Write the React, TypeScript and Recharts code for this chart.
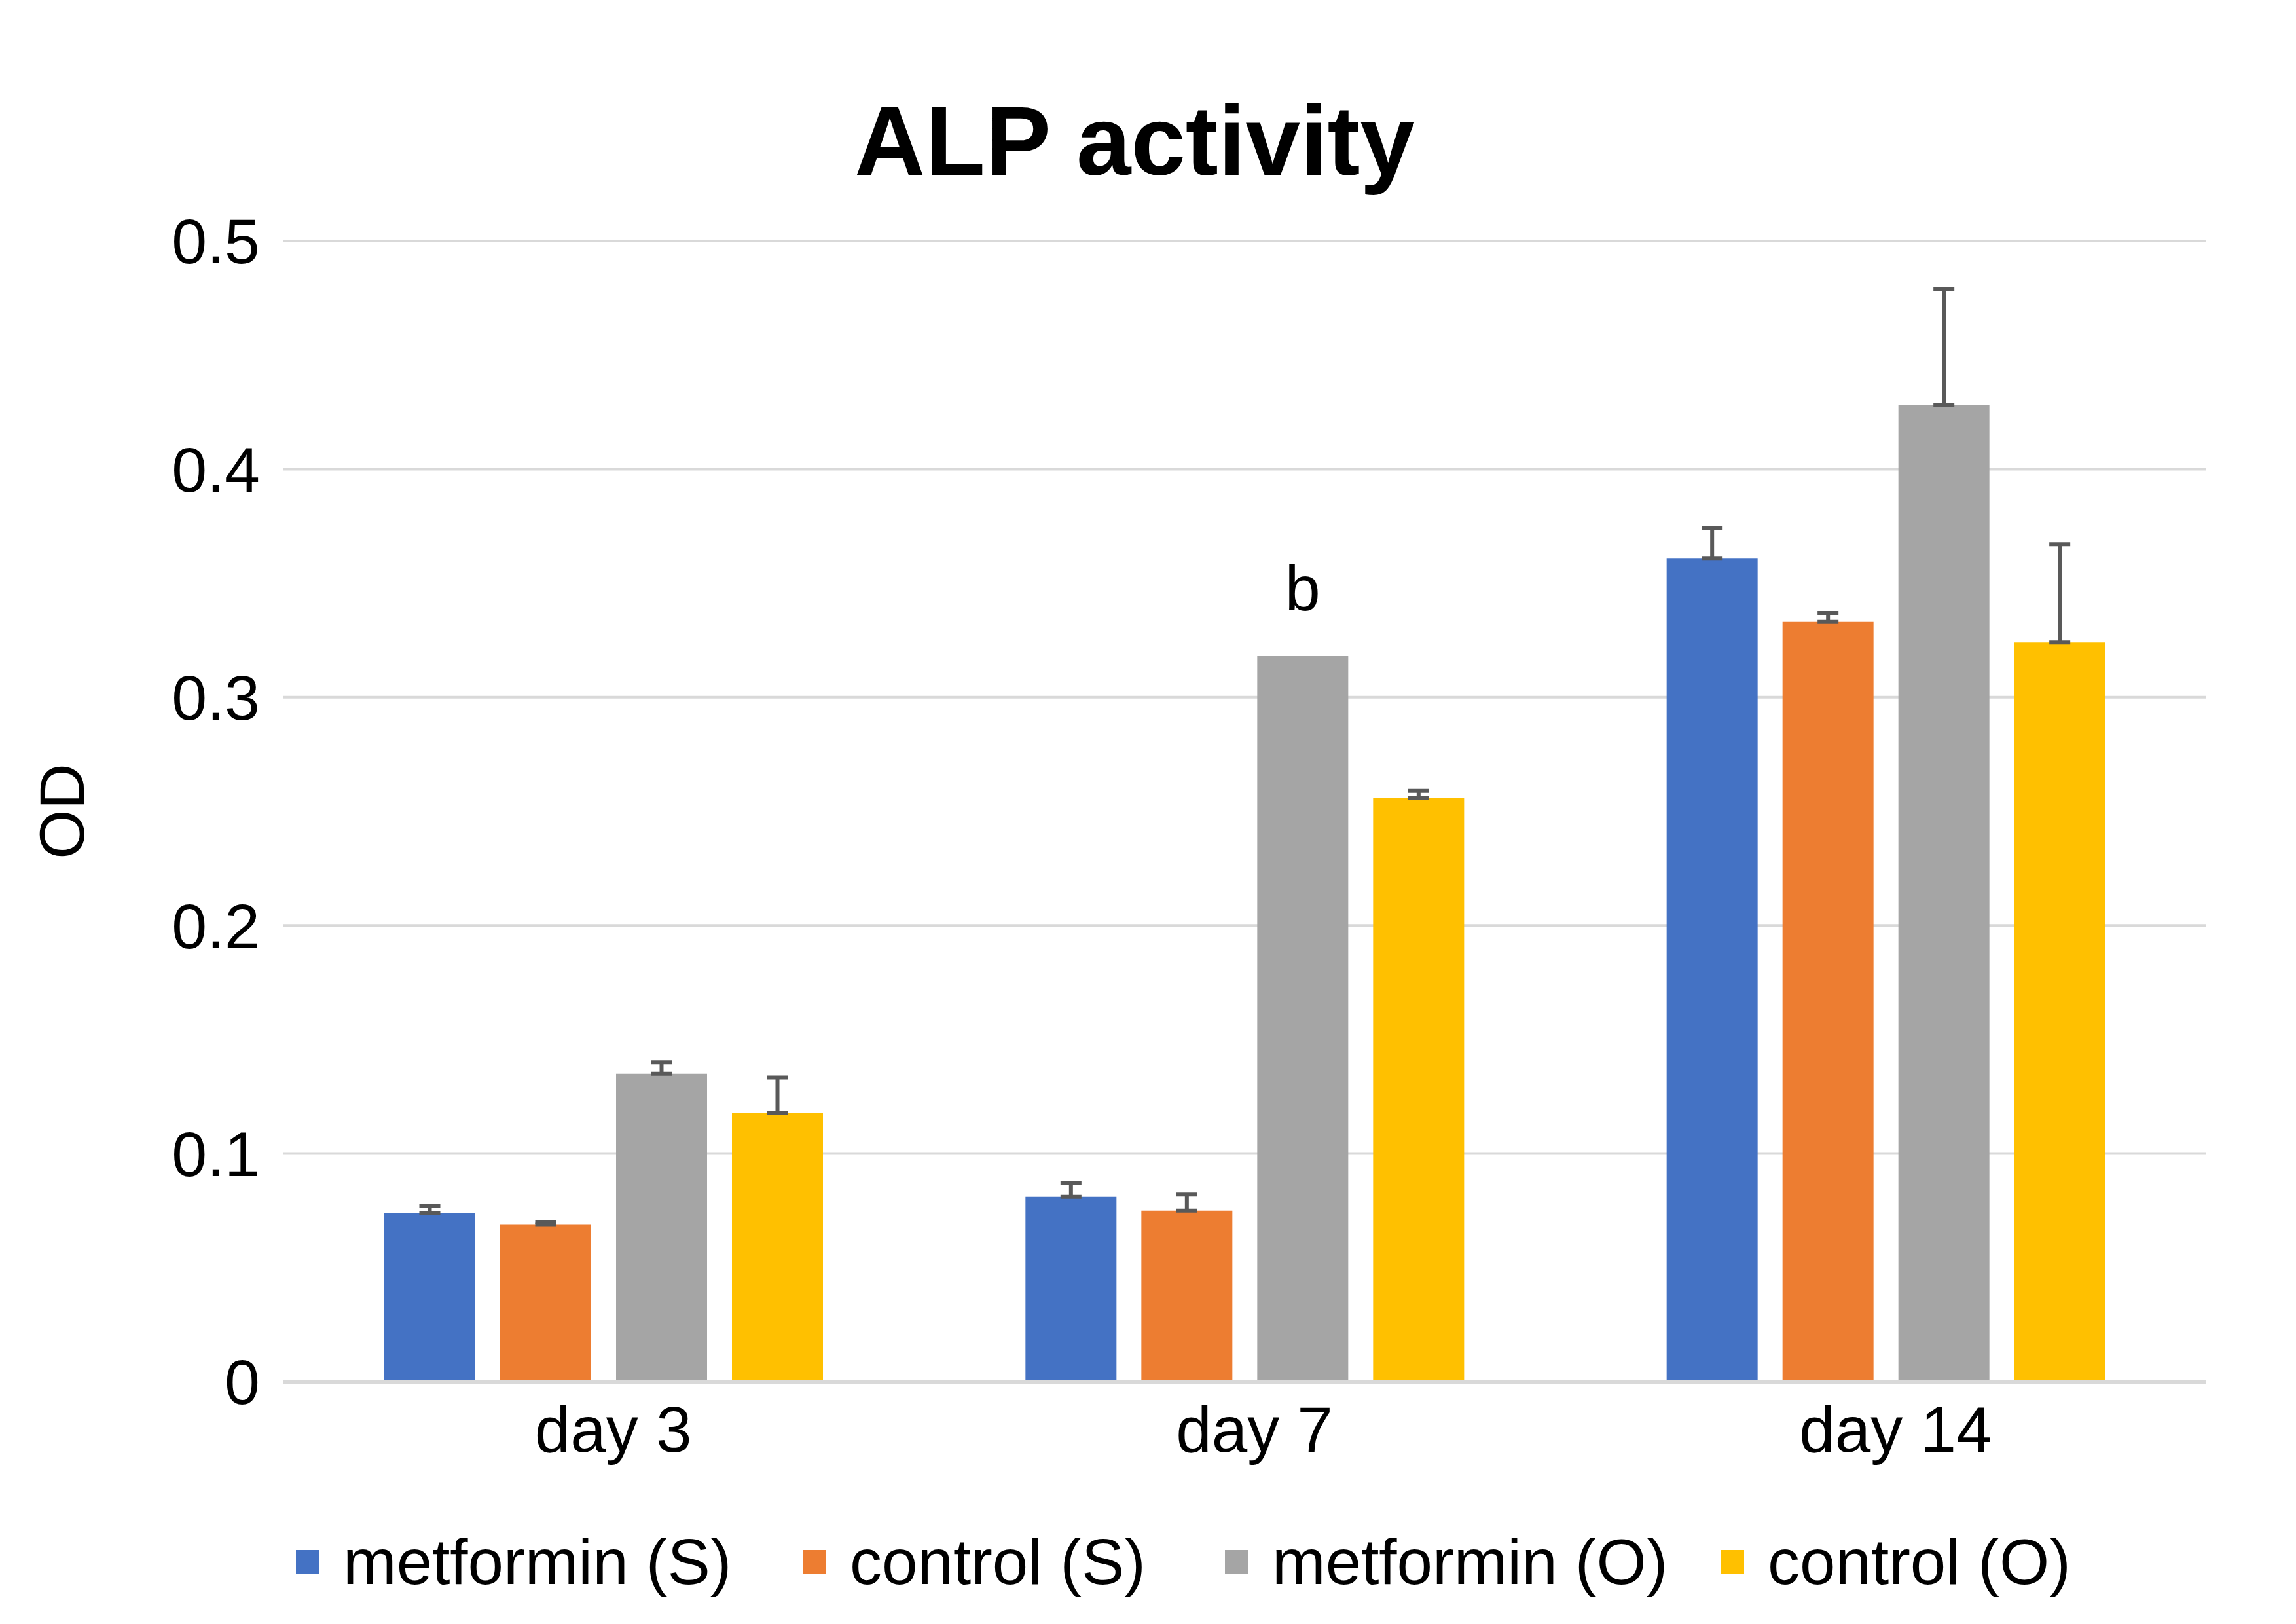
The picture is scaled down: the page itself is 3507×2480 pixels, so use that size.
import React from 'react';
import { BarChart, Bar, XAxis, YAxis, CartesianGrid, ErrorBar, LabelList, Legend } from 'recharts';

const days = ['day 3', 'day 7', 'day 14'];
const seriesNames = ['metformin (S)', 'control (S)', 'metformin (O)', 'control (O)'];
const colors = ['#4472C4', '#ED7D31', '#A5A5A5', '#FFC000'];

const metforminS = [0.074, 0.081, 0.361];
const controlS = [0.069, 0.075, 0.333];
const metforminO = [0.135, 0.318, 0.428];
const controlO = [0.118, 0.256, 0.324];

// upper error only (bars hide the lower half)
const metforminSErr = [0.003, 0.006, 0.013];
const controlSErr = [0.001, 0.007, 0.004];
const metforminOErr = [0.005, null, 0.051];
const controlOErr = [0.0153, 0.003, 0.043];

const sigMarks = ['', 'b', ''];
const yTicks = [0, 0.1, 0.2, 0.3, 0.4, 0.5];

const FONT = '"Liberation Sans", Arial, sans-serif';
const W = 3507;
const H = 2480;

const up = (e: number | null) => (e == null ? null : [0, e]);

const data = days.map((day, i) => ({
  day,
  mS: metforminS[i],
  cS: controlS[i],
  mO: metforminO[i],
  cO: controlO[i],
  mSErr: up(metforminSErr[i]),
  cSErr: up(controlSErr[i]),
  mOErr: up(metforminOErr[i]),
  cOErr: up(controlOErr[i]),
  sig: sigMarks[i],
}));

const legendWidths = [774, 645, 757, 600];

const LegendContent = () => (
  <div style={{ display: 'flex', alignItems: 'center', height: 112, fontFamily: FONT }}>
    {seriesNames.map((name, i) => (
      <div key={name} style={{ display: 'flex', alignItems: 'center', width: legendWidths[i] }}>
        <span style={{ display: 'inline-block', width: 36, height: 36, background: colors[i] }} />
        <span style={{ marginLeft: 36, fontSize: 98, lineHeight: '112px', color: '#000' }}>{name}</span>
      </div>
    ))}
  </div>
);

const ODLabel = (props: any) => {
  const vb = props.viewBox || {};
  const x = vb.x + 94;
  const y = vb.y + vb.height / 2;
  return (
    <text x={x} y={y} transform={`rotate(-90 ${x} ${y})`} textAnchor="middle" dominantBaseline="central"
      fontSize={97} fontFamily={FONT} fill="#000">OD</text>
  );
};

const errProps = { width: 16, strokeWidth: 6, stroke: '#595959', direction: 'y' as const };

export default function App() {
  return (
    <div style={{ position: 'absolute', left: 0, top: 0, width: W, height: H, background: '#fff', fontFamily: FONT }}>
      <BarChart width={W} height={H} data={data} margin={{ top: 368, right: 137, left: 0, bottom: 270 }}
        barSize={139} barGap={38}>
        <text x={1733} y={267} textAnchor="middle" fontSize={150} fontWeight="bold" fontFamily={FONT} fill="#000">
          ALP activity
        </text>
        <CartesianGrid vertical={false} stroke="#D9D9D9" strokeWidth={4} />
        <XAxis dataKey="day" height={100} interval={0} tickSize={0} tickMargin={37} tickLine={false}
          axisLine={{ stroke: '#D9D9D9', strokeWidth: 6 }}
          tick={{ fontSize: 98, fill: '#000', fontFamily: FONT, dx: 15 }} />
        <YAxis width={432} domain={[0, 0.5]} ticks={yTicks} interval={0} tickSize={0} tickMargin={35}
          axisLine={false} tickLine={false}
          tick={{ fontSize: 97, fill: '#000', fontFamily: FONT }}
          label={<ODLabel />} />
        <Legend verticalAlign="middle" align="center" content={<LegendContent />}
          wrapperStyle={{ top: 2329, left: 452, width: 2900 }} />
        <Bar dataKey="mS" name={seriesNames[0]} fill={colors[0]} isAnimationActive={false}>
          <ErrorBar dataKey="mSErr" {...errProps} />
        </Bar>
        <Bar dataKey="cS" name={seriesNames[1]} fill={colors[1]} isAnimationActive={false}>
          <ErrorBar dataKey="cSErr" {...errProps} />
        </Bar>
        <Bar dataKey="mO" name={seriesNames[2]} fill={colors[2]} isAnimationActive={false}>
          <ErrorBar dataKey="mOErr" {...errProps} />
          <LabelList dataKey="sig" position="top" offset={70} fontSize={97} fill="#000" fontFamily={FONT} />
        </Bar>
        <Bar dataKey="cO" name={seriesNames[3]} fill={colors[3]} isAnimationActive={false}>
          <ErrorBar dataKey="cOErr" {...errProps} />
        </Bar>
      </BarChart>
    </div>
  );
}
